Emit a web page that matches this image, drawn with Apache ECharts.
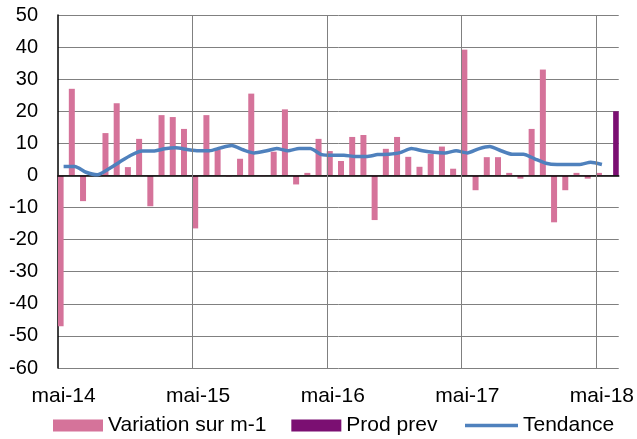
<!DOCTYPE html>
<html>
<head>
<meta charset="utf-8">
<script src="https://cdn.jsdelivr.net/npm/echarts@6/dist/echarts.min.js"></script>
<style>
html,body{margin:0;padding:0;background:#fff;}
#chart{width:637px;height:439px;}
</style>
</head>
<body>
<div id="chart"></div>
<script>
var monthNames = ['janv','févr','mars','avr','mai','juin','juil','août','sept','oct','nov','déc'];
var startMonth = 4; // mai
var startYear = 14;
var monthCount = 50; // mai-14 .. juin-18

var variation = [
  -47, 27, -8, 0.5, 13.2, 22.5, 2.6, 11.4, -9.6, 18.8, 18.2, 14.5,
  -16.5, 18.8, 8.3, -0.3, 5.2, 25.5, -0.2, 7.4, 20.6, -2.8, 0.8, 11.4,
  7.6, 4.5, 12, 12.6, -13.9, 8.3, 12, 5.8, 2.7, 6.7, 9, 2.1,
  39.2, -4.6, 5.7, 5.7, 0.8, -1, 14.5, 33, -14.6, -4.6, 0.8, -1,
  0.8, null
];
var prodPrev = [
  null, null, null, null, null, null, null, null, null, null, null, null,
  null, null, null, null, null, null, null, null, null, null, null, null,
  null, null, null, null, null, null, null, null, null, null, null, null,
  null, null, null, null, null, null, null, null, null, null, null, null,
  null, 20
];
var tendance = [
  2.8, 2.8, 1.0, 0.2, 2.0, 4.2, 6.3, 7.6, 7.6, 8.3, 8.6, 8.1,
  7.7, 7.7, 8.6, 9.3, 8.0, 7.0, 7.6, 8.4, 7.7, 8.4, 8.4, 6.5,
  6.3, 6.3, 5.9, 5.9, 6.5, 6.6, 7.1, 8.4, 7.7, 7.2, 7.0, 7.7,
  7.0, 8.3, 9.0, 7.7, 6.6, 6.6, 5.2, 3.8, 3.4, 3.4, 3.4, 4.1,
  3.4, null
];
var yTicks = { min: -60, max: 50, interval: 10 };
var seriesNames = ['Variation sur m-1', 'Prod prev', 'Tendance'];
var yearStartIndices = [12, 24, 36, 48]; // mai-15 .. mai-18 gridlines

var categories = [];
for (var i = 0; i < monthCount; i++) {
  var m = (startMonth + i) % 12;
  var y = startYear + Math.floor((startMonth + i) / 12);
  categories.push(monthNames[m] + '-' + y);
}

var font = "'Liberation Sans', Arial, sans-serif";
var legendText = { fontSize: 21, color: '#000', fontFamily: font };
var chart = echarts.init(document.getElementById('chart'), null, {renderer: 'canvas'});
chart.setOption({
  animation: false,
  backgroundColor: '#ffffff',
  grid: { left: 58, top: 15, width: 563, height: 353, containLabel: false },
  legend: [
    {
      left: 53, top: 415, padding: 0,
      itemWidth: 50, itemHeight: 12, itemGap: 25, icon: 'rect',
      textStyle: legendText,
      data: [seriesNames[0], seriesNames[1]]
    },
    {
      left: 465, top: 415, padding: 0,
      itemWidth: 53, itemHeight: 3.5, icon: 'rect',
      textStyle: legendText,
      data: [seriesNames[2]]
    }
  ],
  xAxis: [
    {
      type: 'category', data: categories, boundaryGap: true, position: 'bottom',
      axisLine: { show: false, onZero: false },
      axisTick: { show: false, interval: 11 },
      axisLabel: { interval: 11, fontSize: 21, color: '#000', fontFamily: font, margin: 18 },
      splitLine: { show: false }
    },
    {
      type: 'category', data: categories, boundaryGap: true, z: 3,
      axisLine: { show: true, onZero: true, lineStyle: { color: '#000', width: 1.5 } },
      axisTick: { show: false }, axisLabel: { show: false }, splitLine: { show: false }
    },
    {
      type: 'value', min: -0.5, max: monthCount - 0.5, show: false,
      splitLine: { show: false }
    }
  ],
  yAxis: {
    type: 'value', min: yTicks.min, max: yTicks.max, interval: yTicks.interval,
    axisLine: { show: true, onZero: false, lineStyle: { color: '#000', width: 1.5 } },
    axisTick: { show: false },
    axisLabel: { fontSize: 20, color: '#000', fontFamily: font, margin: 20 },
    splitLine: { show: true, lineStyle: { color: '#808080', width: 1 } }
  },
  series: [
    { type: 'line', xAxisIndex: 2, data: [], z: 1, silent: true,
      markLine: {
        silent: true, symbol: ['none', 'none'], animation: false,
        label: { show: false },
        lineStyle: { color: '#808080', width: 1, type: 'solid' },
        emphasis: { disabled: true },
        data: yearStartIndices.map(function (v) { return { xAxis: v - 0.5 }; })
      }
    },
    { name: seriesNames[0], type: 'bar', data: variation, barWidth: 6, barGap: '0%',
      itemStyle: { color: '#D5739A' } },
    { name: seriesNames[1], type: 'bar', data: prodPrev, barWidth: 6, barGap: '0%',
      itemStyle: { color: '#7B0F72' } },
    { name: seriesNames[2], type: 'line', data: tendance, symbol: 'none', smooth: 0.2, z: 4,
      lineStyle: { color: '#4F81BD', width: 3.5 }, itemStyle: { color: '#4F81BD' } }
  ]
});
</script>
</body>
</html>
